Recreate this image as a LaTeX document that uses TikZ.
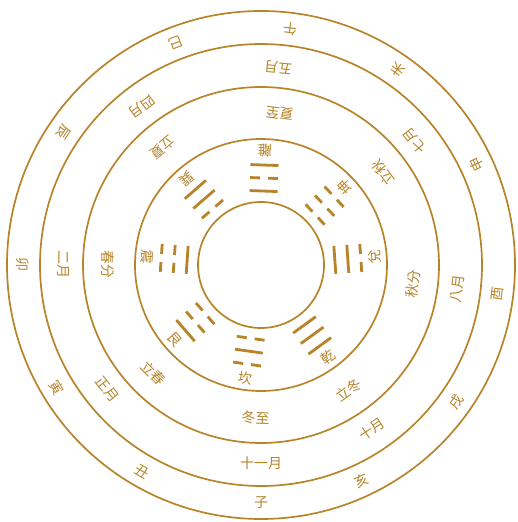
\documentclass[tikz,border=0pt]{standalone}
\usepackage{fontspec}
\newfontfamily\cjk{Noto Sans CJK TC}
\definecolor{gold}{RGB}{183,132,42}
\newcommand\yaoline[2]{%
  \ifnum#2=1 \draw[yao] (-14,#1) -- (14,#1);%
  \else \draw[yao] (-14,#1) -- (-4,#1) (4,#1) -- (14,#1);\fi}
\begin{document}
\begin{tikzpicture}[x=1pt,y=1pt,
  ring/.style={draw=gold, line width=1.7pt},
  lbl/.style={text=gold, font=\cjk\fontsize{14}{14}\selectfont, inner sep=0pt},
  yao/.style={draw=gold, line width=2.8pt}]
\useasboundingbox[fill=white] (0,0) rectangle (517,522);
\begin{scope}[shift={(261,257)}]
  % rings
  \foreach \r in {254,221,178,126,63} \draw[ring] (0,0) circle[radius=\r pt];
  % earthly branches
  \foreach \a/\t [count=\i] in {270/子,295/亥,325/戌,353/酉,25/申,55/未,83/午,111/巳,146/辰,180/卯,211/寅,240/丑}
    \node[lbl, rotate=\a+90] (br\i) at (\a:238) {\t};
  % months
  \foreach \a/\t [count=\i] in {270/十一月,304/十月,353/八月,39/七月,85/五月,127/四月,180/二月,219/正月}
    \node[lbl, rotate=\a+90] (mo\i) at (\a:198) {\t};
  % solar terms
  \foreach \a/\t [count=\i] in {83/夏至,130/立夏,180/春分,225/立春,268/冬至,305/立冬,353/秋分,37/立秋}
    \node[lbl, rotate=\a+90] (st\i) at (\a:153) {\t};
  % trigrams
  \foreach \a/\t/\p/\q/\s [count=\i] in {88/離/1/0/1,43/坤/0/0/0,4/兌/1/1/0,306/乾/1/1/1,262/坎/0/1/0,221/艮/0/0/1,176/震/1/0/0,131/巽/0/1/1} {
    \node[lbl, rotate=\a+90] (tn\i) at (\a:114) {\t};
    \begin{scope}[rotate=\a-90]
      \yaoline{74}{\p}\yaoline{87}{\q}\yaoline{100}{\s}
    \end{scope}
  }
\end{scope}
\end{tikzpicture}
\end{document}
